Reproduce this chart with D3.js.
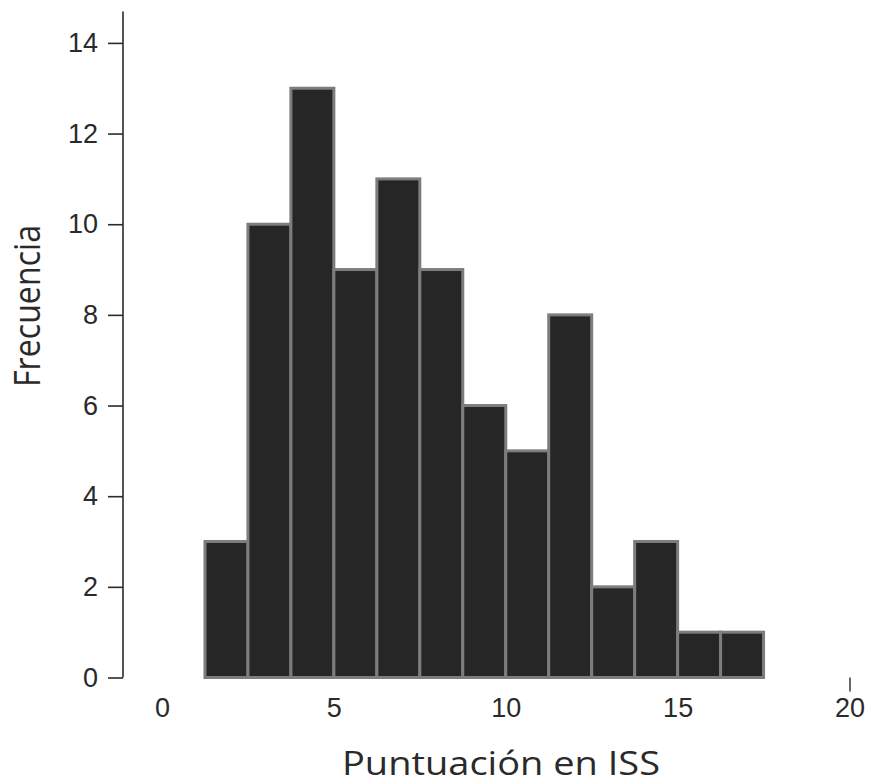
<!DOCTYPE html>
<html>
<head>
<meta charset="utf-8">
<script src="https://cdn.jsdelivr.net/npm/d3@7"></script>
<style>
  html, body { margin: 0; padding: 0; background: #ffffff; }
  svg { display: block; }
</style>
</head>
<body>
<svg id="chart" width="871" height="784"></svg>
<script>
// Histogram of ISS scores: bin lower edges (width 1.25) and counts per bin
const binStarts = [1.25, 2.5, 3.75, 5, 6.25, 7.5, 8.75, 10, 11.25, 12.5, 13.75, 15, 16.25];
const binWidth = 1.25;
const counts = [3, 10, 13, 9, 11, 9, 6, 5, 8, 2, 3, 1, 1];
const yTicks = [0, 2, 4, 6, 8, 10, 12, 14];
const xTicks = [0, 5, 10, 15, 20];
const xTitle = "Puntuación en ISS";
const yTitle = "Frecuencia";

const svg = d3.select("#chart");

const x = d3.scaleLinear().domain([0, 20]).range([162, 849.5]);
const y = d3.scaleLinear().domain([0, 14]).range([677.5, 42.9]);

// bars
svg.append("g")
  .selectAll("rect")
  .data(counts)
  .join("rect")
  .attr("x", (d, i) => x(binStarts[i]))
  .attr("y", d => y(d))
  .attr("width", (d, i) => x(binStarts[i] + binWidth) - x(binStarts[i]))
  .attr("height", d => y(0) - y(d))
  .attr("fill", "#262626")
  .attr("stroke", "#7d7d7d")
  .attr("stroke-width", 3);

// y axis
const yAxis = svg.append("g")
  .attr("transform", "translate(123,0)")
  .call(d3.axisLeft(y).tickValues(yTicks).tickSize(15).tickPadding(10).tickSizeOuter(0));
yAxis.select(".domain").remove();
yAxis.append("line")
  .attr("x1", 0).attr("x2", 0)
  .attr("y1", 11.5).attr("y2", y(0))
  .attr("stroke", "#2a2a2a").attr("stroke-width", 1.6);
yAxis.selectAll(".tick line").attr("stroke", "#2a2a2a").attr("stroke-width", 1.6);
yAxis.selectAll(".tick text")
  .attr("fill", "#2a2a2a")
  .style("font-family", "'Liberation Sans', Arial, sans-serif")
  .style("font-size", "27px");

// x axis: labels only, with a single tick mark at the far end
const xAxis = svg.append("g")
  .attr("transform", `translate(0,${y(0)})`)
  .call(d3.axisBottom(x).tickValues(xTicks).tickSize(14).tickPadding(6).tickSizeOuter(0));
xAxis.select(".domain").remove();
xAxis.selectAll(".tick line")
  .attr("stroke", d => d === 20 ? "#2a2a2a" : "none")
  .attr("stroke-width", 1.4);
xAxis.selectAll(".tick text")
  .attr("fill", "#2a2a2a")
  .style("font-family", "'Liberation Sans', Arial, sans-serif")
  .style("font-size", "27px");

// axis titles
svg.append("text")
  .attr("x", 342).attr("y", 775)
  .attr("textLength", 318).attr("lengthAdjust", "spacingAndGlyphs")
  .attr("fill", "#2a2a2a")
  .style("font-family", "'Open Sans', sans-serif")
  .style("font-size", "33px")
  .text(xTitle);

svg.append("text")
  .attr("transform", "translate(40,387) rotate(-90)")
  .attr("x", 0).attr("y", 0)
  .attr("textLength", 162).attr("lengthAdjust", "spacingAndGlyphs")
  .attr("fill", "#2a2a2a")
  .style("font-family", "'Open Sans', sans-serif")
  .style("font-size", "36px")
  .text(yTitle);
</script>
</body>
</html>
